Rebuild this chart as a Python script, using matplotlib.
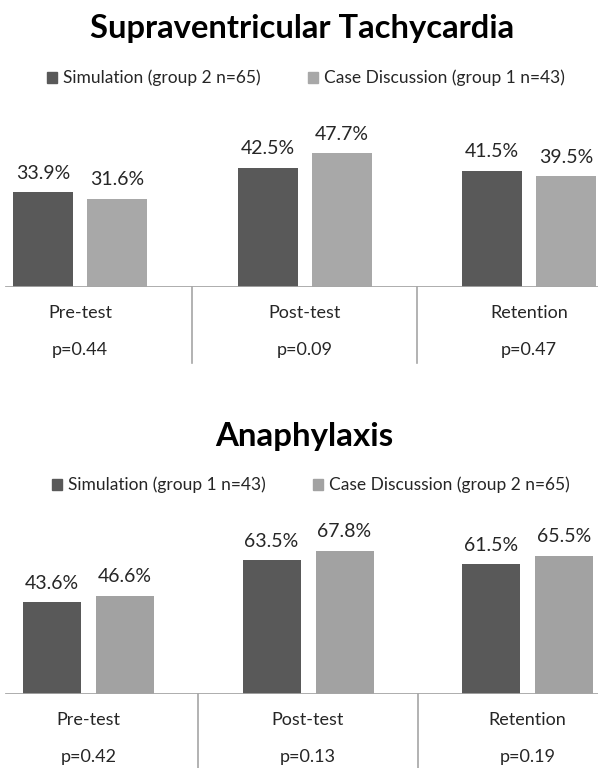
import numpy as np
import matplotlib
matplotlib.use("Agg")
import matplotlib.pyplot as plt
from matplotlib.patches import Patch

plt.rcParams['font.family'] = ['Lato', 'DejaVu Sans']

# %% Daten
categories = ['Pre-test', 'Post-test', 'Retention']

svt_sim = [33.9, 42.5, 41.5]
svt_case = [31.6, 47.7, 39.5]
svt_p = ['p=0.44', 'p=0.09', 'p=0.47']

ana_sim = [43.6, 63.5, 61.5]
ana_case = [46.6, 67.8, 65.5]
ana_p = ['p=0.42', 'p=0.13', 'p=0.19']

svt_title = 'Supraventricular Tachycardia'
ana_title = 'Anaphylaxis'
svt_labels = ['Simulation (group 2 n=65)', 'Case Discussion (group 1 n=43)']
ana_labels = ['Simulation (group 1 n=43)', 'Case Discussion (group 2 n=65)']

dark = '#595959'
light_top = '#a8a8a8'
light_bot = '#a2a2a2'
line_col = '#a6a6a6'
txt_col = '#262626'

W, H = 598, 768
fig = plt.figure(figsize=(W / 100, H / 100), dpi=100)


def panel(base_px, top_px, px_per_pct, centers_px, bar_w_px, offs_px,
          sim, case, pvals, light, div_len_px):
    """Ein Balkendiagramm; Positionen in Pixeln von oben."""
    ax = fig.add_axes([0, (H - base_px) / H, 1, (base_px - top_px) / H])
    step = centers_px[1] - centers_px[0]
    x0 = centers_px[0]
    ax.set_xlim(-x0 / step, (W - x0) / step)
    ax.set_ylim(0, (base_px - top_px) / px_per_pct)
    ax.axis('off')

    x = np.arange(len(categories))
    w = bar_w_px / step
    off = offs_px / step
    b1 = ax.bar(x - off, sim, w, color=dark)
    b2 = ax.bar(x + off, case, w, color=light)

    for bars, vals in ((b1, sim), (b2, case)):
        for r, v in zip(bars, vals):
            ax.annotate(f'{v:.1f}%', (r.get_x() + r.get_width() / 2, v),
                        xytext=(0, 19), textcoords='offset pixels',
                        ha='center', va='center', fontsize=14,
                        color=txt_col)

    ax.axhline(0, xmin=6 / W, xmax=1, color=line_col, lw=2)
    frac = div_len_px / (base_px - top_px)
    for xd in (0.5, 1.5):
        ax.plot([xd, xd], [0, -frac], color=line_col, lw=1.2,
                transform=ax.get_xaxis_transform(), clip_on=False)

    for i, (c, p) in enumerate(zip(categories, pvals)):
        ax.annotate(c, (i, 0), xytext=(0, -26), textcoords='offset pixels',
                    ha='center', va='center', fontsize=13, color=txt_col)
        ax.annotate(p, (i, 0), xytext=(0, -63), textcoords='offset pixels',
                    ha='center', va='center', fontsize=13, color=txt_col)
    return ax


# %% Supraventricular Tachycardia
panel(287, 100, 2.8, [80, 304.5, 529], 60, 37, svt_sim, svt_case, svt_p,
      light_top, 76)
fig.text(302 / W, (H - 38) / H, svt_title, ha='center', va='baseline',
         fontsize=23.6, fontweight='bold', color='black')
fig.legend(handles=[Patch(color=dark), Patch(color=light_top)],
           labels=svt_labels, loc='center', bbox_to_anchor=(306 / W, (H - 78) / H),
           ncol=2, frameon=False, fontsize=12.5, handlelength=0.6,
           handleheight=0.6, handletextpad=0.35, columnspacing=2.7,
           labelcolor=txt_col)

# %% Anaphylaxis
panel(694, 520, 2.11, [88.5, 308, 527.5], 58, 36.5, ana_sim, ana_case, ana_p,
      light_bot, 74)
fig.text(304 / W, (H - 446) / H, ana_title, ha='center', va='baseline',
         fontsize=23.8, fontweight='bold', color='black')
fig.legend(handles=[Patch(color=dark), Patch(color=light_bot)],
           labels=ana_labels, loc='center', bbox_to_anchor=(311 / W, (H - 485) / H),
           ncol=2, frameon=False, fontsize=12.5, handlelength=0.6,
           handleheight=0.6, handletextpad=0.35, columnspacing=2.7,
           labelcolor=txt_col)

fig.savefig('out.png', dpi=100)
